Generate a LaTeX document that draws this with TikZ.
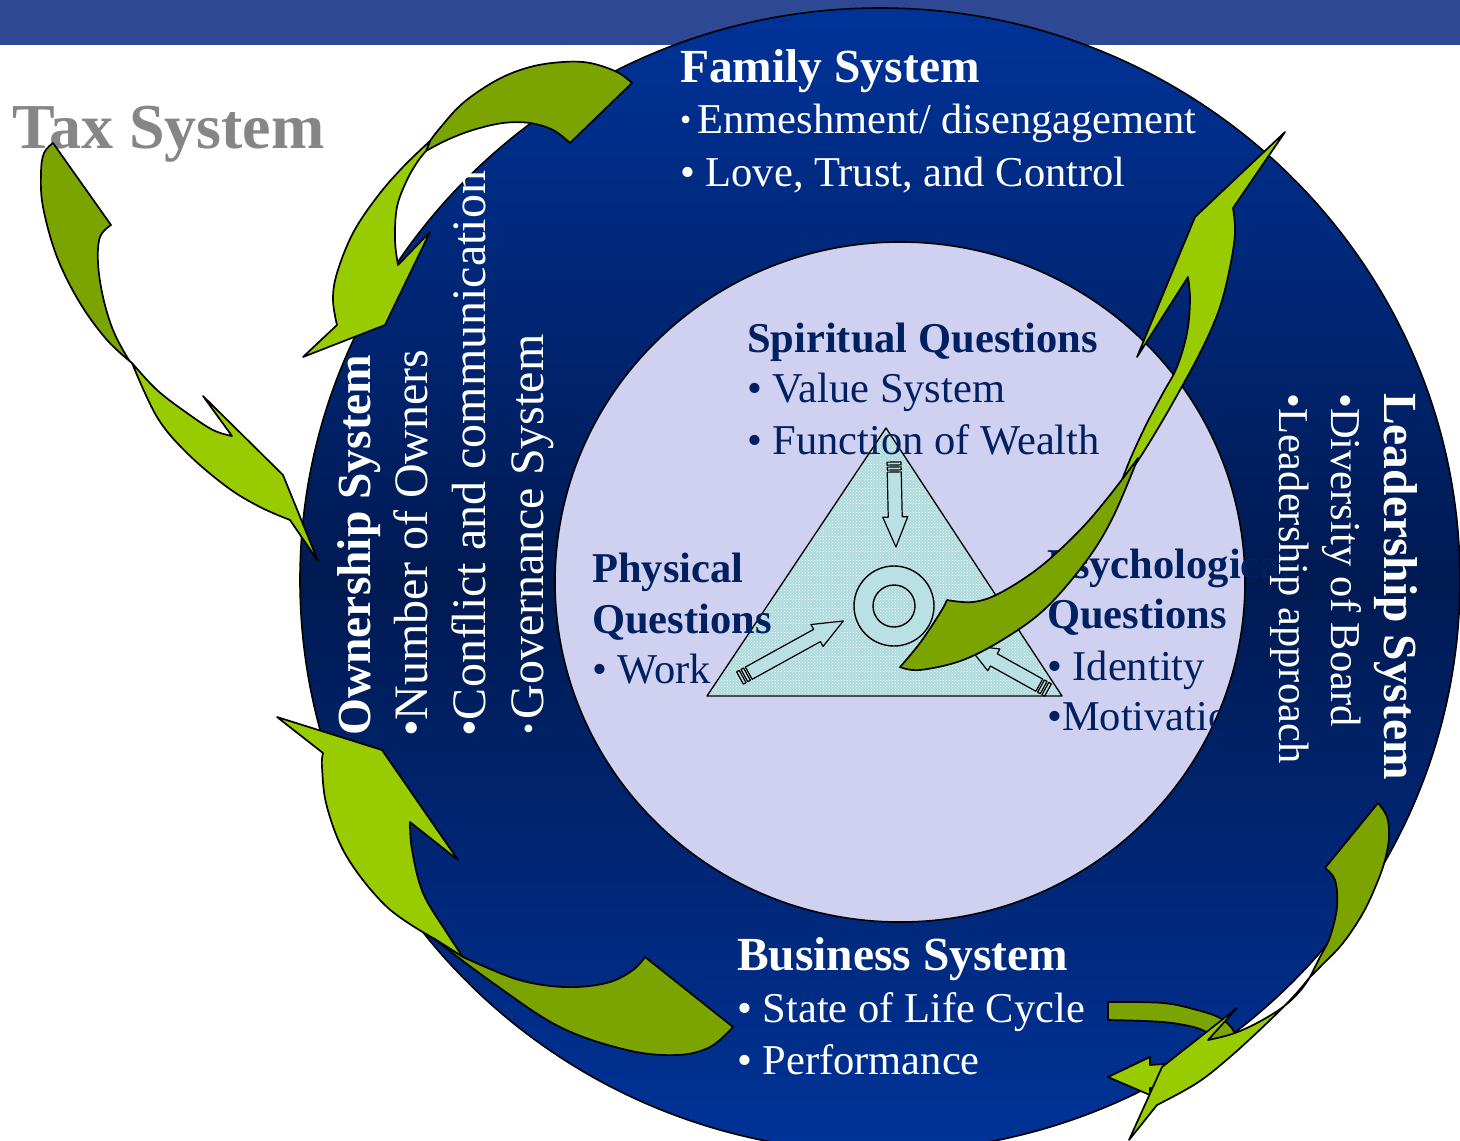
\documentclass[tikz,border=0pt]{standalone}
\usepackage{fontspec}
\setmainfont{Liberation Serif}
\usetikzlibrary{patterns}
\definecolor{barblue}{RGB}{46,72,148}
\definecolor{ringtop}{RGB}{0,51,153}
\definecolor{ringmid}{RGB}{0,26,82}
\definecolor{lav}{RGB}{208,208,240}
\definecolor{navy}{RGB}{0,32,96}
\definecolor{taxgrey}{RGB}{134,134,134}
\definecolor{lgreen}{RGB}{153,204,0}
\definecolor{dgreen}{RGB}{124,164,0}
\definecolor{tri}{RGB}{172,218,220}
\definecolor{donut}{RGB}{185,225,228}
\newcommand\pencilarrow[3]{%
  \begin{scope}[shift={#1},rotate=#2]
    \filldraw[smallarr] (0,-7) rectangle (3,7);
    \filldraw[smallarr] (5,-7) rectangle (8,7);
    \filldraw[smallarr] (10,-7) -- ({#3-30},-7) -- ({#3-30},-12.5) -- (#3,0)
      -- ({#3-30},12.5) -- ({#3-30},7) -- (10,7) -- cycle;
  \end{scope}}
\begin{document}
\begin{tikzpicture}[x=1pt,y=-1pt,
  ga/.style={draw=black,line width=1.7pt,line join=round},
  lg/.style={ga,fill=lgreen},
  dg/.style={ga,fill=dgreen},
  smallarr/.style={fill=donut,draw=black,line width=1.2pt,line join=round},
  wtxt/.style={text=white,inner sep=0pt,anchor=base west},
  ntxt/.style={text=navy,inner sep=0pt,anchor=base west},
  hfont/.style={font=\fontsize{47.5}{50}\selectfont\bfseries},
  bfont/.style={font=\fontsize{42.5}{45}\selectfont},
  ifont/.style={font=\fontsize{42.5}{45}\selectfont\bfseries},
  ofont/.style={font=\fontsize{48}{50}\selectfont},
  sm/.style={smooth,tension=0.6}]
\useasboundingbox (0,0) rectangle (1460,1141);
\clip (0,0) rectangle (1460,1141);
% top bar
\fill[barblue] (0,0) rectangle (1460,45);
% outer ring
\shade[top color=ringtop,bottom color=ringtop,middle color=ringmid]
  (880,580) ellipse [x radius=580pt, y radius=572pt];
\draw[line width=1.6pt] (880,580) ellipse [x radius=580pt, y radius=572pt];
% inner circle
\filldraw[fill=lav,draw=black,line width=1.6pt] (900,582) ellipse [x radius=345pt, y radius=340pt];
% triangle
\fill[tri] (886,428) -- (707,696) -- (1062,696) -- cycle;
\fill[pattern=crosshatch dots,pattern color=white] (886,428) -- (707,696) -- (1062,696) -- cycle;
\draw[line width=1.3pt,line join=round] (886,428) -- (707,696) -- (1062,696) -- cycle;
% donut
\filldraw[fill=donut,draw=black,line width=1.4pt,even odd rule]
  (894,606) circle[radius=40pt] (894,606) circle[radius=21pt];
% small arrows
\pencilarrow{(894,462)}{-88.7}{85}
\pencilarrow{(740,678)}{28.9}{118}
\pencilarrow{(1048,690)}{150.9}{92}
% texts: family
\node[wtxt,hfont] (fam) at (680,82) {Family System};
\node[wtxt,bfont] (fam1) at (680,133) {{\fontsize{32}{32}\selectfont\raisebox{3pt}{•}}\hspace{6pt}Enmeshment/ disengagement};
\node[wtxt,bfont] (fam2) at (680,186) {• Love, Trust, and Control};
% tax
\node[text=taxgrey,inner sep=0pt,anchor=base west,font=\fontsize{64}{64}\selectfont\bfseries] (tax) at (12,148) {Tax System};
% spiritual
\node[ntxt,ifont] (spi) at (747,352) {Spiritual Questions};
\node[ntxt,bfont] (spi1) at (747,402) {• Value System};
\node[ntxt,bfont] (spi2) at (747,454) {• Function of Wealth};
% physical
\node[ntxt,ifont] (phy) at (592,582) {Physical};
\node[ntxt,ifont] (phy1) at (592,633) {Questions};
\node[ntxt,bfont] (phy2) at (592,683) {• Work};
% psychological
\node[ntxt,ifont] (psy) at (1047,578) {Psychological};
\node[ntxt,ifont] (psy1) at (1047,628) {Questions};
\node[ntxt,bfont] (psy2) at (1047,680) {• Identity};
\node[ntxt,bfont] (psy3) at (1047,730) {•Motivation};
% business
\node[wtxt,hfont] (bus) at (737,970) {Business System};
\node[wtxt,bfont] (bus1) at (737,1022) {• State of Life Cycle};
\node[wtxt,bfont] (bus2) at (737,1074) {• Performance};
% ownership (rotated)
\node[wtxt,hfont,rotate=90] (own) at (370,736) {Ownership System};
\node[wtxt,ofont,rotate=90] (own1) at (427,737) {•Number of Owners};
\node[wtxt,ofont,rotate=90] (own2) at (485,737) {•Conflict and communication};
\node[wtxt,ofont,rotate=90] (own3) at (543,735) {{\fontsize{32}{32}\selectfont\raisebox{4pt}{•}}\hspace{4pt}Governance System};
% leadership (rotated)
\node[wtxt,hfont,rotate=-90] (lead) at (1384,393) {Leadership System};
\node[wtxt,bfont,rotate=-90] (lead1) at (1331,393) {•Diversity of Board};
\node[wtxt,bfont,rotate=-90] (lead2) at (1279,393) {•Leadership approach};
% ---- green arrows ----
% A: family -> ownership
\path[dg] (632,83) -- plot[sm] coordinates {(632,83) (617,72) (590,63) (563,62) (530,67) (497,80) (463,103) (440,128) (430,141)}
  -- plot[sm] coordinates {(426,151) (447,140) (473,130) (503,123) (530,123) (553,130) (570,143)} -- cycle;
\path[lg] (430,141) -- plot[sm] coordinates {(430,141) (403,167) (377,197) (353,233) (337,273) (333,300) (337,325)}
  -- (303,357) -- (385,325) -- (430,232) -- (398,265)
  -- plot[sm] coordinates {(398,265) (395,240) (397,207) (407,180) (418,161) (426,151)} -- cycle;
% B: tax -> ownership
\path[dg] (53,143) -- (111,225) -- plot[sm] coordinates {(111,225) (100,237) (98,263) (103,297) (113,330) (127,357) (132,363)}
  -- plot[sm] coordinates {(132,363) (107,340) (80,303) (57,257) (43,207) (41,173) (44,153) (53,143)} -- cycle;
\path[lg] (132,363) -- plot[sm] coordinates {(132,363) (157,390) (187,413) (213,430) (232,436)}
  -- (203,396) -- (283,475) -- (318,561) -- (290,520)
  -- plot[sm] coordinates {(290,520) (260,507) (227,487) (187,453) (157,417) (132,363)} -- cycle;
% C: business -> ownership
\path[lg] (323,753) -- plot[sm] coordinates {(323,753) (322,767) (327,807) (347,857) (387,907) (433,938)}
  -- (463,957) -- plot[sm] coordinates {(463,957) (447,933) (423,893) (412,850) (410,822)}
  -- (458,860) -- (382,750) -- (277,717) -- cycle;
\path[dg] (433,938) -- plot[sm] coordinates {(433,938) (493,983) (560,1027) (627,1050) (677,1055) (710,1047) (733,1027)}
  -- (645,957) -- plot[sm] coordinates {(645,957) (633,970) (610,982) (577,987) (543,985) (510,977) (463,957)} -- cycle;
% D: center -> leadership
\path[lg] (1285,132) -- (1195,217) -- (1137,357) -- (1188,277)
  -- plot[sm] coordinates {(1188,277) (1190,300) (1187,333) (1177,367) (1163,393) (1147,423) (1132,455) (1122,480)}
  -- plot[sm] coordinates {(1122,480) (1135,465) (1157,430) (1180,390) (1203,347) (1220,307) (1230,267) (1235,233) (1233,208)} -- cycle;
\path[dg] (1138,458) -- plot[sm] coordinates {(1138,458) (1113,517) (1087,560) (1047,607) (1007,637) (963,660) (920,670) (900,667)}
  -- plot[sm] coordinates {(900,667) (920,643) (940,613) (947,600)}
  -- plot[sm] coordinates {(947,600) (973,602) (1000,593) (1040,567) (1080,530) (1110,495) (1138,458)} -- cycle;
% F: business -> leadership (curl hidden under E)
\path[dg] (1108,1002) -- plot[sm] coordinates {(1108,1002) (1163,1003) (1197,1010) (1220,1018) (1233,1030) (1234,1042) (1222,1058) (1205,1072) (1186,1084) (1176,1088)}
  -- (1176,1064) -- plot[sm] coordinates {(1176,1064) (1196,1055) (1208,1045) (1210,1036) (1197,1028) (1163,1022) (1108,1020)} -- cycle;
\path[lg] (1178,1063) -- (1150,1065) -- (1150,1057) -- (1108,1077) -- (1150,1095) -- (1150,1088) -- (1178,1089) -- cycle;
% E: leadership -> business
\path[dg] (1378,803) -- (1325,868) -- plot[sm] coordinates {(1325,868) (1335,880) (1337,907) (1330,937) (1320,957) (1310,977)}
  -- plot[sm] coordinates {(1310,977) (1322,965) (1343,943) (1363,913) (1377,883) (1385,860) (1389,837) (1387,817) (1378,803)} -- cycle;
\path[lg] (1310,977) -- plot[sm] coordinates {(1310,977) (1293,997) (1267,1023) (1230,1057) (1197,1083) (1157,1105)}
  -- (1129,1140) -- (1162,1067) -- (1237,1008) -- (1208,1040)
  -- plot[sm] coordinates {(1208,1040) (1232,1034) (1257,1023) (1283,1007) (1300,991) (1310,977)} -- cycle;
\end{tikzpicture}
\end{document}
